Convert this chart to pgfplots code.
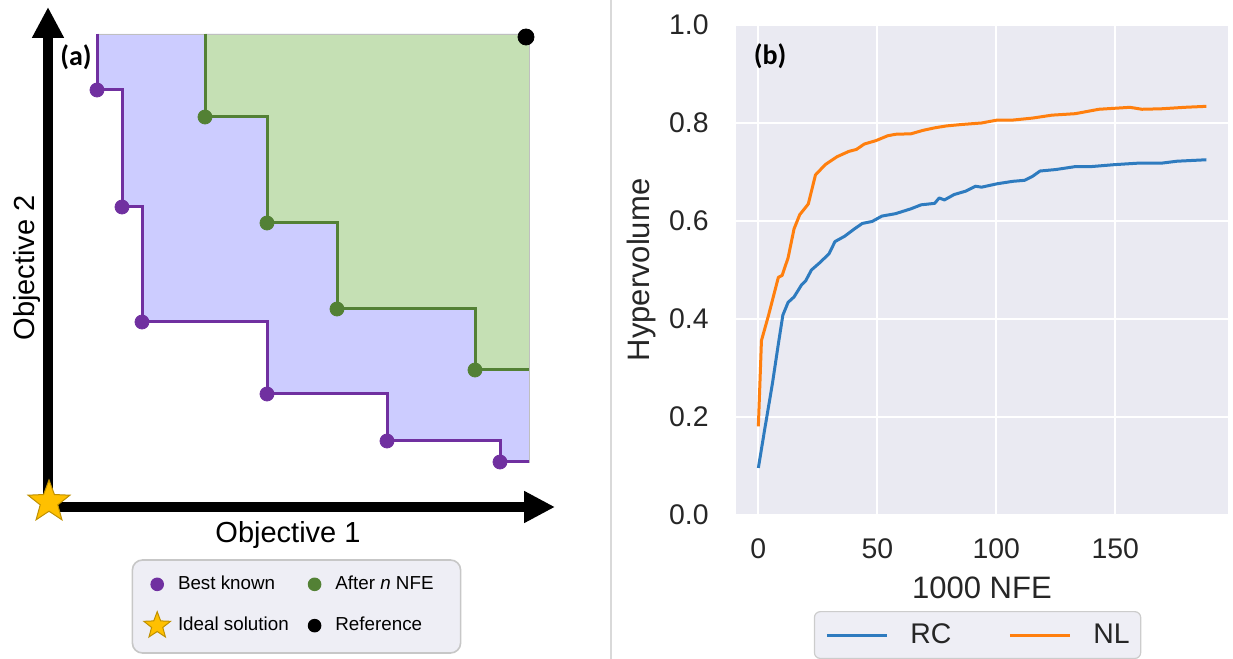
\documentclass[border=0pt]{standalone}
\usepackage{fontspec}
\setmainfont{Liberation Sans}
\newfontfamily\calfont{Carlito}
\usepackage{pgfplots}
\pgfplotsset{compat=1.18}
\usetikzlibrary{arrows.meta}

\definecolor{bkpurple}{HTML}{7030A0}
\definecolor{nfegreen}{HTML}{538135}
\definecolor{bkfill}{HTML}{CCCCFF}
\definecolor{nfefill}{HTML}{C5E0B4}
\definecolor{stargold}{HTML}{FFC000}
\definecolor{stardark}{HTML}{BF9000}
\definecolor{sbbg}{HTML}{EAEAF2}
\definecolor{lgfill}{HTML}{EEEEF5}
\definecolor{rcblue}{HTML}{2E7BBF}
\definecolor{nlorange}{HTML}{FF7F0E}
\definecolor{inkgray}{HTML}{262626}

% filled five-pointed star
\pgfdeclareplotmark{fivestar}{%
  \pgfpathmoveto{\pgfpointpolar{90}{\pgfplotmarksize}}%
  \pgfpathlineto{\pgfpointpolar{126}{0.42\pgfplotmarksize}}%
  \pgfpathlineto{\pgfpointpolar{162}{\pgfplotmarksize}}%
  \pgfpathlineto{\pgfpointpolar{198}{0.42\pgfplotmarksize}}%
  \pgfpathlineto{\pgfpointpolar{234}{\pgfplotmarksize}}%
  \pgfpathlineto{\pgfpointpolar{270}{0.42\pgfplotmarksize}}%
  \pgfpathlineto{\pgfpointpolar{306}{\pgfplotmarksize}}%
  \pgfpathlineto{\pgfpointpolar{342}{0.42\pgfplotmarksize}}%
  \pgfpathlineto{\pgfpointpolar{18}{\pgfplotmarksize}}%
  \pgfpathlineto{\pgfpointpolar{54}{0.42\pgfplotmarksize}}%
  \pgfpathclose
  \pgfusepathqfillstroke
}

\begin{document}
\begin{tikzpicture}
\useasboundingbox (0,0) rectangle (616.5pt,329.5pt);

% separator between the panels
\draw[black!15, line width=1pt] (305.5pt,0pt) -- (305.5pt,329.5pt);

% ---------------- (a) hypervolume schematic ----------------
\begin{axis}[
  at={(24pt,76pt)}, anchor=south west,
  width=250pt, height=250pt, scale only axis,
  xmin=0, xmax=500, ymin=0, ymax=500,
  axis line style={draw=none}, ticks=none, clip=false,
  xlabel={Objective 1}, ylabel={Objective 2},
  label style={font=\fontsize{14.5pt}{17pt}\selectfont},
  xlabel style={at={(axis description cs:0.48,-0.056)}, anchor=center},
  ylabel style={at={(axis description cs:-0.042,0.478)}, anchor=center},
  legend columns=2,
  legend cell align=left,
  legend image code/.code={\path (-7pt,0pt) (7pt,0pt);
    \draw[#1] plot coordinates {(0pt,0pt)};},
  legend style={at={(0.497,-0.199)}, anchor=center,
    fill=lgfill, draw=black!22, line width=0.8pt, rounded corners=5pt,
    font=\fontsize{9.4pt}{11pt}\selectfont,
    inner xsep=5pt, inner ysep=8pt, row sep=9.5pt,
    nodes={inner sep=0pt},
    /tikz/every odd column/.append style={column sep=3pt},
    /tikz/every even column/.append style={column sep=5.5pt}},
]
% objective axes
\draw[line width=5pt, -{Triangle[length=15.5pt,width=15pt]}]
  (axis cs:0,-5) -- (axis cs:0,500);
\draw[line width=5pt, -{Triangle[length=15.5pt,width=15pt]}]
  (axis cs:-5,0) -- (axis cs:507,0);

% dominated regions
\addplot[fill=bkfill, draw=black!25, line width=0.4pt, forget plot]
  coordinates {(49,473) (49,417) (74,417) (74,300) (94,300) (94,185)
    (219,185) (219,113) (339,113) (339,66) (452,66) (452,45) (481,45) (481,473)} -- cycle;
\addplot[fill=nfefill, draw=black!25, line width=0.4pt, forget plot]
  coordinates {(157,473) (157,390) (219,390) (219,284) (289,284) (289,198)
    (427,198) (427,137) (481,137) (481,473)} -- cycle;

% attainment fronts
\addplot[bkpurple, line width=1.5pt, forget plot]
  coordinates {(49,473) (49,417) (74,417) (74,300) (94,300) (94,185)
    (219,185) (219,113) (339,113) (339,66) (452,66) (452,45) (481,45)};
\addplot[nfegreen, line width=1.5pt, forget plot]
  coordinates {(157,473) (157,390) (219,390) (219,284) (289,284) (289,198)
    (427,198) (427,137) (481,137)};

\addplot[only marks, mark=*, mark size=3.5pt, bkpurple,
  legend image post style={mark size=3pt}]
  coordinates {(49,417) (74,300) (94,185) (219,113) (339,66) (452,45)};
\addlegendentry{Best known}
\addplot[only marks, mark=*, mark size=3.5pt, nfegreen,
  legend image post style={mark size=3pt}]
  coordinates {(157,390) (219,284) (289,198) (427,137)};
\addlegendentry{After \textit{n} NFE\hspace*{8.5pt}}
\addplot[only marks, mark=fivestar, mark size=11pt,
  mark options={fill=stargold, draw=stardark, line width=0.5pt},
  legend image post style={mark size=7pt}]
  coordinates {(1,5)};
\addlegendentry{Ideal solution}
\addplot[only marks, mark=*, mark size=4pt, black,
  legend image post style={mark size=3pt}]
  coordinates {(478,470)};
\addlegendentry{Reference}

\node[font=\calfont\bfseries\fontsize{14pt}{16pt}\selectfont] at (axis cs:28,450) {(a)};
\end{axis}

% ---------------- (b) hypervolume vs. evaluations ----------------
\begin{axis}[
  at={(368pt,72pt)}, anchor=south west,
  width=246pt, height=245pt, scale only axis,
  xmin=-9.4, xmax=197.4, ymin=0, ymax=1,
  axis background/.style={fill=sbbg},
  axis line style={draw=none},
  grid=major, major grid style={white, line width=1pt},
  major tick length=0pt,
  xtick={0,50,100,150}, ytick={0,0.2,0.4,0.6,0.8,1.0},
  /pgf/number format/assume math mode=true,
  yticklabel style={/pgf/number format/fixed, /pgf/number format/fixed zerofill,
    /pgf/number format/precision=1},
  ticklabel style={font=\fontsize{14.2pt}{17pt}\selectfont, text=inkgray},
  yticklabel style={anchor=east, inner sep=0pt, xshift=-13.5pt},
  xticklabel style={anchor=north, inner sep=0pt, yshift=-11.5pt},
  xlabel={1000 NFE}, ylabel={Hypervolume},
  label style={font=\fontsize{15.5pt}{18pt}\selectfont, text=inkgray},
  xlabel style={at={(axis description cs:0.5,-0.149)}, anchor=center},
  ylabel style={at={(axis description cs:-0.193,0.5)}, anchor=center},
  legend columns=2,
  legend image code/.code={\draw[#1] (0pt,0pt) -- (30pt,0pt);},
  legend style={at={(0.491,-0.196)}, anchor=north,
    fill=lgfill, draw=black!20, line width=0.6pt, rounded corners=3pt,
    font=\fontsize{14.2pt}{17pt}\selectfont, text=inkgray,
    inner xsep=5.5pt, inner ysep=6pt,
    nodes={inner sep=0pt},
    /tikz/every odd column/.append style={column sep=11pt},
    /tikz/every even column/.append style={column sep=28.5pt}},
]
\addplot[rcblue, line width=1.5pt, line join=round] coordinates {
  (0,0.096) (2.6,0.173) (5.9,0.268) (8.4,0.349) (10.3,0.408) (12.5,0.434)
  (15,0.445) (18.2,0.470) (19.9,0.478) (22.3,0.500) (25.6,0.514) (29.7,0.533)
  (32.2,0.558) (36.3,0.569) (40.4,0.584) (43.7,0.595) (47.8,0.599) (51.9,0.610)
  (57.7,0.615) (64.2,0.625) (68.4,0.633) (74.1,0.636) (76,0.647) (78.2,0.643)
  (82.3,0.654) (87.2,0.661) (91.3,0.671) (93.8,0.669) (100.4,0.676) (107,0.681)
  (111.9,0.683) (115.2,0.691) (118.4,0.702) (125,0.705) (133.2,0.711)
  (139.8,0.711) (149.7,0.715) (159.5,0.718) (169.4,0.718) (176,0.722) (188.3,0.725)
};
\addlegendentry{RC}
\addplot[nlorange, line width=1.5pt, line join=round] coordinates {
  (0,0.181) (1.3,0.356) (4.3,0.408) (8.4,0.485) (10,0.489) (12.5,0.525)
  (15,0.584) (17.4,0.613) (19.9,0.628) (21,0.635) (24,0.694) (28.1,0.715)
  (33,0.731) (38,0.742) (41.2,0.746) (44.5,0.757) (49.4,0.764) (54.4,0.774)
  (57.7,0.777) (64.2,0.778) (69.2,0.785) (74,0.790) (79,0.794) (85.6,0.797)
  (93.8,0.800) (100.4,0.806) (107,0.806) (115.2,0.810) (123.4,0.816)
  (133.2,0.819) (143.1,0.828) (156.2,0.832) (161.2,0.828) (169.4,0.829)
  (179.2,0.832) (188.3,0.834)
};
\addlegendentry{NL}

\node[font=\calfont\bfseries\fontsize{14pt}{16pt}\selectfont] at (axis cs:4.9,0.937) {(b)};
\end{axis}
\end{tikzpicture}
\end{document}
